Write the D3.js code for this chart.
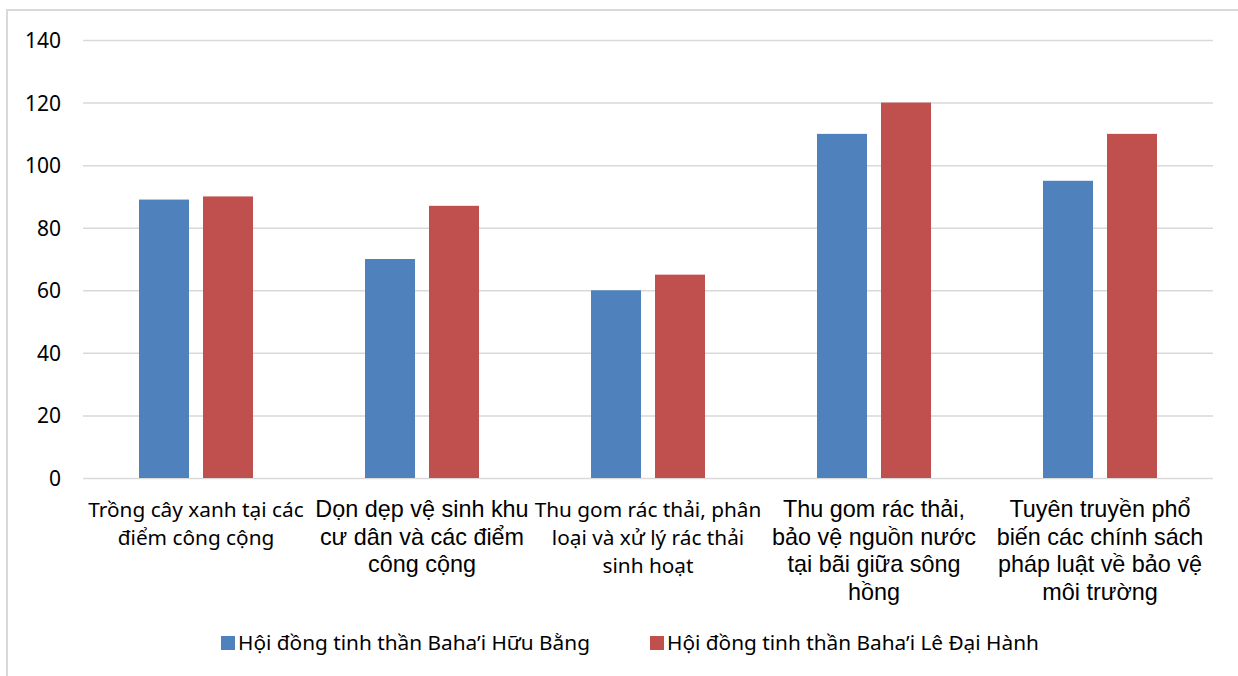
<!DOCTYPE html>
<html>
<head>
<meta charset="utf-8">
<script src="https://cdn.jsdelivr.net/npm/d3@7"></script>
<style>
  html, body { margin: 0; padding: 0; background: #fff; }
  svg { display: block; }
</style>
</head>
<body>
<script>
// ---- data ----
const categories = [
  "Trồng cây xanh tại các điểm công cộng",
  "Dọn dẹp vệ sinh khu cư dân và các điểm công cộng",
  "Thu gom rác thải, phân loại và xử lý rác thải sinh hoạt",
  "Thu gom rác thải, bảo vệ nguồn nước tại bãi giữa sông hồng",
  "Tuyên truyền phổ biến các chính sách pháp luật về bảo vệ môi trường"
];
const categoryLines = [
  ["Trồng cây xanh tại các", "điểm công cộng"],
  ["Dọn dẹp vệ sinh khu", "cư dân và các điểm", "công cộng"],
  ["Thu gom rác thải, phân", "loại và xử lý rác thải", "sinh hoạt"],
  ["Thu gom rác thải,", "bảo vệ nguồn nước", "tại bãi giữa sông", "hồng"],
  ["Tuyên truyền phổ", "biến các chính sách", "pháp luật về bảo vệ", "môi trường"]
];
const categoryFontStyle = ["calibri", "arial", "calibri", "arial", "arial"];
const seriesNames = [
  "Hội đồng tinh thần Baha’i Hữu Bằng",
  "Hội đồng tinh thần Baha’i Lê Đại Hành"
];
const huuBang = [89, 70, 60, 110, 95];
const leDaiHanh = [90, 87, 65, 120, 110];
const seriesColors = ["#4F81BD", "#C0504D"];
const yTicks = [0, 20, 40, 60, 80, 100, 120, 140];

// ---- layout ----
const W = 1238, H = 676;
const plot = { left: 83, right: 1213, top: 40, bottom: 478 };
const calibri = "'Noto Sans', 'DejaVu Sans', sans-serif";
const arial = "'Liberation Sans', Arial, sans-serif";

const svg = d3.select("body").append("svg")
  .attr("width", W).attr("height", H);

// chart border (only top/left visible in the reference)
svg.append("path")
  .attr("d", `M7,${H} L7,10 L${W},10`)
  .attr("fill", "none").attr("stroke", "#d9d9d9").attr("stroke-width", 2);

const y = d3.scaleLinear().domain([0, 140]).range([plot.bottom, plot.top]);
const x0 = d3.scaleBand().domain(d3.range(categories.length))
  .range([plot.left, plot.right]).padding(0);
const innerWidth = 114;
const x1 = d3.scaleBand().domain([0, 1])
  .range([(x0.bandwidth() - innerWidth) / 2, (x0.bandwidth() + innerWidth) / 2])
  .paddingInner(14 / 64).paddingOuter(0);

// gridlines
const yAxis = d3.axisLeft(y).tickValues(yTicks)
  .tickSize(-(plot.right - plot.left)).tickPadding(22);
const gy = svg.append("g").attr("transform", `translate(${plot.left},0)`).call(yAxis);
gy.select(".domain").remove();
gy.selectAll(".tick line").attr("stroke", "#d9d9d9").attr("stroke-width", 1.5);
gy.selectAll(".tick text")
  .attr("font-family", calibri).attr("font-size", 21).attr("fill", "#000")
  .attr("dy", "0.36em");

// bars
const seriesData = [huuBang, leDaiHanh];
seriesData.forEach((vals, si) => {
  svg.append("g").selectAll("rect").data(vals).join("rect")
    .attr("x", (d, i) => x0(i) + x1(si))
    .attr("width", x1.bandwidth())
    .attr("y", d => y(d))
    .attr("height", d => y(0) - y(d))
    .attr("fill", seriesColors[si]);
});

// category labels (one text element per line)
const labG = svg.append("g");
categoryLines.forEach((lines, i) => {
  const cx = x0(i) + x0.bandwidth() / 2;
  const isCal = categoryFontStyle[i] === "calibri";
  const lh = isCal ? 28 : 27.6;
  lines.forEach((ln, j) => {
    labG.append("text")
      .attr("x", cx).attr("y", 517 + j * lh)
      .attr("text-anchor", "middle")
      .attr("font-family", isCal ? calibri : arial)
      .attr("font-size", isCal ? 20.8 : 23.4)
      .attr("fill", "#000")
      .text(ln);
  });
});

// legend
const legendX = [221, 650];
const lg = svg.append("g");
seriesNames.forEach((name, i) => {
  lg.append("rect").attr("x", legendX[i]).attr("y", 636)
    .attr("width", 14).attr("height", 14).attr("fill", seriesColors[i]);
  lg.append("text").attr("x", legendX[i] + 17).attr("y", 650)
    .attr("font-family", calibri).attr("font-size", 20.8).attr("fill", "#000")
    .text(name);
});
</script>
</body>
</html>
